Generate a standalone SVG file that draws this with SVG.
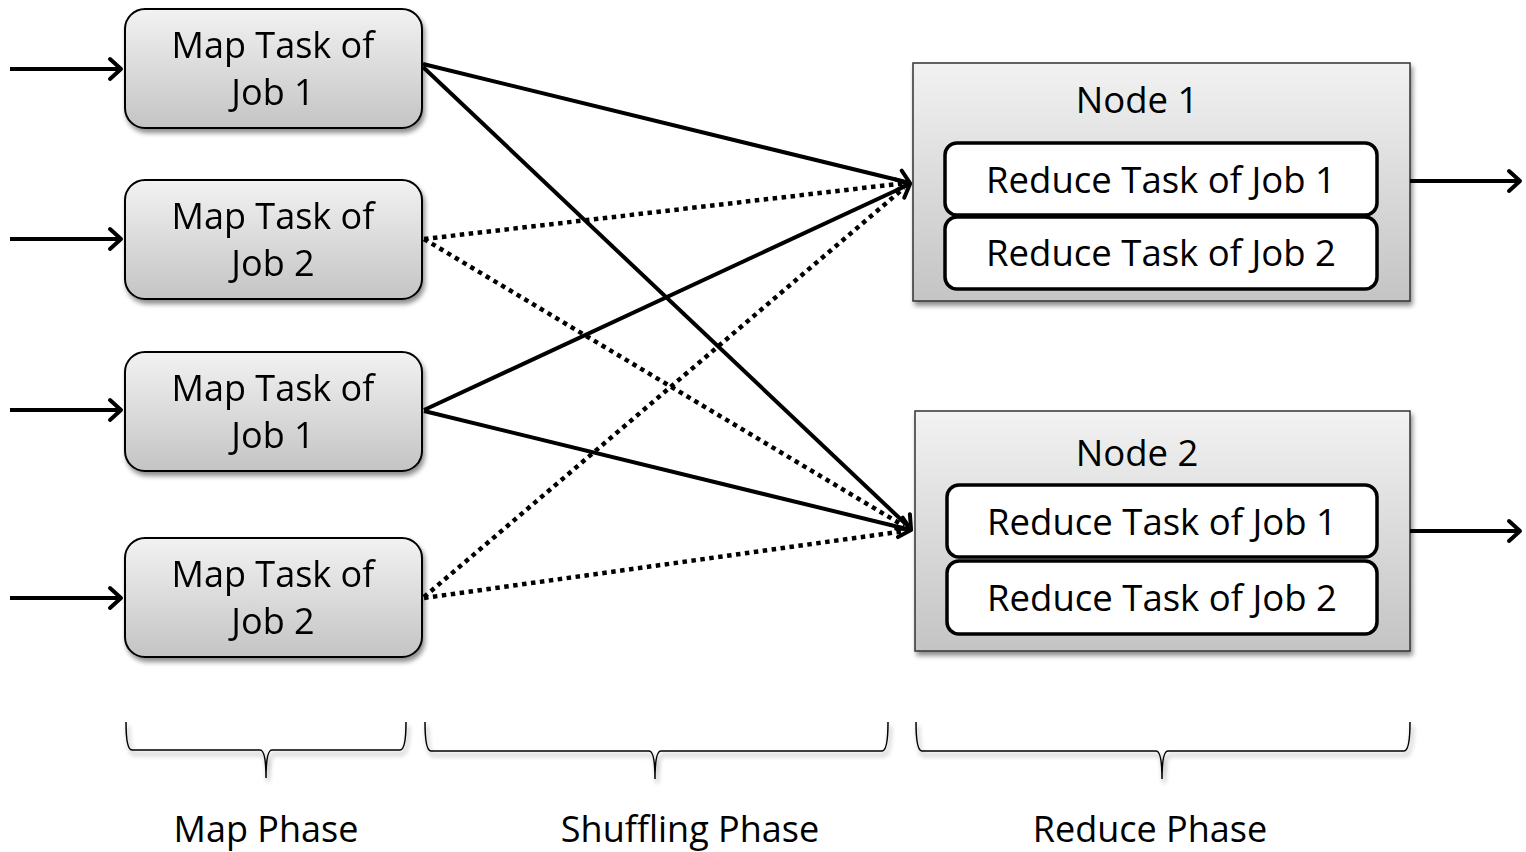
<svg xmlns="http://www.w3.org/2000/svg" width="1526" height="852" viewBox="0 0 1526 852">
<style>
text{font-family:"Open Sans","Liberation Sans",sans-serif;fill:#000;text-anchor:middle}
.t{font-size:36px}
.r{font-size:36.5px}
.map{fill:url(#g);stroke:#000;stroke-width:2}
.node{fill:url(#g);stroke:#333;stroke-width:1.5}
.inner{fill:#fff;stroke:#000;stroke-width:3.5}
.c{fill:none;stroke:#000;stroke-width:4}
.d{fill:none;stroke:#000;stroke-width:4.5;stroke-dasharray:4.5 4.5}
.br{fill:none;stroke:#000;stroke-width:1.5}
</style>
<defs>
<linearGradient id="g" x1="0" y1="0" x2="0" y2="1">
<stop offset="0" stop-color="#f2f2f2"/>
<stop offset="1" stop-color="#c4c4c4"/>
</linearGradient>
<filter id="sh" x="-10%" y="-10%" width="125%" height="130%">
<feGaussianBlur in="SourceAlpha" stdDeviation="2.5"/>
<feOffset dx="2" dy="4"/>
<feComponentTransfer><feFuncA type="linear" slope="0.45"/></feComponentTransfer>
<feMerge><feMergeNode/><feMergeNode in="SourceGraphic"/></feMerge>
</filter>
<marker id="a" viewBox="-16 -14 20 28" refX="0" refY="0" markerWidth="20" markerHeight="28" markerUnits="userSpaceOnUse" orient="auto" overflow="visible">
<path d="M-11,-10 L0,0 L-11,10" fill="none" stroke="#000" stroke-width="4" stroke-linecap="round" stroke-linejoin="round"/>
</marker>
</defs>

<g id="map1" filter="url(#sh)"><rect class="map" x="125" y="9" width="297" height="119" rx="20"/><text class="t" x="273" y="58">Map Task of</text><text class="t" x="273" y="105">Job 1</text></g>
<g id="map2" filter="url(#sh)"><rect class="map" x="125" y="180" width="297" height="119" rx="20"/><text class="t" x="273" y="229">Map Task of</text><text class="t" x="273" y="276">Job 2</text></g>
<g id="map3" filter="url(#sh)"><rect class="map" x="125" y="352" width="297" height="119" rx="20"/><text class="t" x="273" y="401">Map Task of</text><text class="t" x="273" y="448">Job 1</text></g>
<g id="map4" filter="url(#sh)"><rect class="map" x="125" y="538" width="297" height="119" rx="20"/><text class="t" x="273" y="587">Map Task of</text><text class="t" x="273" y="634">Job 2</text></g>

<g id="node1">
<rect class="node" filter="url(#sh)" x="913" y="63" width="497" height="238"/>
<text class="r" x="1137" y="113">Node 1</text>
<g id="n1r1"><rect class="inner" x="945" y="143" width="432" height="72" rx="12"/><text class="r" x="1161" y="193">Reduce Task of Job 1</text></g>
<g id="n1r2"><rect class="inner" x="945" y="217" width="432" height="72" rx="12"/><text class="r" x="1161" y="266">Reduce Task of Job 2</text></g>
</g>
<g id="node2">
<rect class="node" filter="url(#sh)" x="915" y="411" width="495" height="240"/>
<text class="r" x="1137" y="466">Node 2</text>
<g id="n2r1"><rect class="inner" x="947" y="485" width="430" height="72" rx="12"/><text class="r" x="1162" y="535">Reduce Task of Job 1</text></g>
<g id="n2r2"><rect class="inner" x="947" y="561" width="430" height="73" rx="12"/><text class="r" x="1162" y="611">Reduce Task of Job 2</text></g>
</g>

<g id="connectors">
<line class="c" x1="10" y1="69" x2="121" y2="69" marker-end="url(#a)"/>
<line class="c" x1="10" y1="239" x2="121" y2="239" marker-end="url(#a)"/>
<line class="c" x1="10" y1="410" x2="121" y2="410" marker-end="url(#a)"/>
<line class="c" x1="10" y1="598" x2="121" y2="598" marker-end="url(#a)"/>
<line class="c" x1="1410" y1="181" x2="1520" y2="181" marker-end="url(#a)"/>
<line class="c" x1="1410" y1="531" x2="1520" y2="531" marker-end="url(#a)"/>
<line class="c" x1="423" y1="64" x2="910" y2="183" marker-end="url(#a)"/>
<line class="c" x1="423" y1="67" x2="911" y2="529" marker-end="url(#a)"/>
<line class="c" x1="424" y1="410" x2="910" y2="184" marker-end="url(#a)"/>
<line class="c" x1="424" y1="411" x2="911" y2="530" marker-end="url(#a)"/>
<line class="d" x1="424" y1="239" x2="906" y2="183"/>
<line class="d" x1="424" y1="239" x2="904" y2="526"/>
<line class="d" x1="424" y1="597" x2="904" y2="188"/>
<line class="d" x1="424" y1="598" x2="905" y2="531"/>
</g>

<g id="braces" filter="url(#sh)">
<path class="br" d="M126,722 Q126,750 132,750 L260,750 Q266,750 266,778 Q266,750 272,750 L400,750 Q406,750 406,722"/>
<path class="br" d="M425,722 Q425,751 431,751 L649,751 Q655,751 655,779 Q655,751 661,751 L882,751 Q888,751 888,722"/>
<path class="br" d="M916,722 Q916,751 922,751 L1156,751 Q1162,751 1162,779 Q1162,751 1168,751 L1404,751 Q1410,751 1410,722"/>
</g>
<g id="labels">
<text class="t" x="266" y="842">Map Phase</text>
<text class="t" x="690" y="842">Shuffling Phase</text>
<text class="t" x="1150" y="842">Reduce Phase</text>
</g>
</svg>
